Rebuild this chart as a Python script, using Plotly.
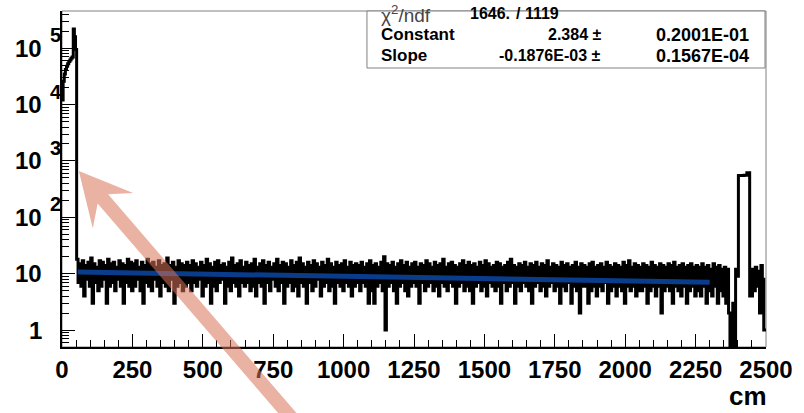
import numpy as np
import plotly.graph_objects as go

# ---------------- data ----------------
# fine 4 cm bins covering the big peak, 0..52 cm
peak_counts = [12000, 26000, 35000, 42000, 48000, 53000, 58000, 62000,
               66000, 70000, 220000, 160000, 95000]
peak_bin_width = 4

# 10 cm columns from 52 cm to 2502 cm: upper and lower envelope of the
# densely fluctuating histogram inside each column
body_start = 52
body_bin_width = 10
body_high = [
    18, 15, 17, 14, 16, 19, 15, 13, 17, 16, 14, 18, 15, 16, 13, 17, 15, 14, 18, 16,   # 52-252
    15, 17, 13, 16, 14, 18, 15, 16, 13, 17, 14, 15, 19, 14, 16, 13, 17, 15, 14, 16,   # 252-452
    14, 17, 15, 13, 16, 14, 18, 15, 13, 16, 17, 14, 15, 13, 16, 19, 14, 15, 17, 13,   # 452-652
    16, 14, 15, 18, 13, 15, 17, 14, 16, 13, 15, 18, 14, 16, 15, 13, 17, 14, 16, 19,   # 652-852
    15, 13, 16, 14, 17, 15, 13, 16, 14, 18, 15, 13, 16, 14, 15, 17, 13, 16, 14, 15,   # 852-1052
    14, 16, 13, 15, 17, 14, 15, 13, 16, 20, 15, 14, 16, 13, 15, 17, 14, 16, 13, 15,   # 1052-1252
    16, 13, 15, 14, 17, 15, 13, 16, 14, 15, 18, 13, 15, 16, 14, 13, 15, 17, 14, 16,   # 1252-1452
    14, 15, 13, 16, 14, 17, 15, 13, 14, 16, 15, 13, 14, 16, 18, 14, 13, 15, 14, 16,   # 1452-1652
    13, 15, 14, 16, 13, 15, 14, 17, 13, 15, 14, 13, 16, 14, 15, 13, 14, 16, 13, 15,   # 1652-1852
    14, 13, 15, 16, 13, 14, 15, 13, 16, 14, 13, 15, 14, 13, 16, 14, 17, 13, 15, 14,   # 1852-2052
    13, 15, 14, 13, 16, 14, 13, 15, 14, 13, 15, 14, 16, 13, 14, 15, 13, 14, 15, 13,   # 2052-2252
    14, 13, 15, 13, 14, 12, 15, 13, 14, 12, 13, 12, 0, 3, 12, 550, 550, 560, 620, 4,  # 2252-2452
    12, 13, 11, 14, 1,                                                                # 2452-2502
]
body_low = [
    7, 6, 4, 8, 6, 3, 7, 5, 6, 8, 3, 6, 7, 5, 8, 6, 3, 7, 6, 5,
    6, 8, 5, 3, 7, 6, 5, 8, 6, 4, 7, 6, 5, 8, 3, 6, 7, 5, 6, 7,
    5, 7, 6, 8, 4, 6, 7, 3, 6, 5, 7, 8, 3, 6, 5, 7, 6, 4, 7, 6,
    7, 5, 6, 4, 7, 6, 3, 7, 5, 8, 6, 5, 7, 3, 6, 7, 5, 6, 4, 7,
    6, 3, 7, 5, 6, 8, 4, 6, 7, 5, 6, 3, 7, 6, 5, 7, 6, 4, 6, 7,
    5, 7, 6, 3, 5, 3, 6, 7, 5, 1, 6, 7, 5, 3, 6, 7, 5, 4, 6, 7,
    6, 3, 7, 5, 6, 7, 5, 6, 4, 7, 6, 5, 7, 6, 3, 6, 7, 5, 6, 5,
    3, 6, 7, 5, 6, 4, 7, 6, 5, 6, 3, 7, 5, 6, 7, 3, 6, 5, 7, 6,
    5, 3, 6, 7, 5, 6, 4, 6, 7, 5, 6, 3, 6, 5, 7, 3, 6, 5, 2, 6,
    6, 3, 5, 6, 4, 6, 5, 7, 3, 5, 6, 4, 6, 5, 3, 6, 5, 6, 4, 5,
    5, 6, 3, 5, 6, 4, 6, 2, 5, 6, 5, 3, 6, 5, 4, 6, 3, 5, 6, 4,
    5, 4, 6, 3, 5, 4, 6, 3, 5, 4, 3, 2, 0, 0, 9, 550, 550, 560, 620, 4,
    5, 6, 2, 8, 1,
]

# fitted exponential (end points of the drawn fit line)
fit_x = [56, 2300]
fit_y = [10.7, 7.05]

# stats box
stats_names = ["χ<sup>2</sup>/ndf", "Constant", "Slope"]
stats_values = ["1646.", "2.384 ±", "-0.1876E-03 ±"]
stats_errors = ["/ 1119", "0.2001E-01", "0.1567E-04"]

x_tick_values = [0, 250, 500, 750, 1000, 1250, 1500, 1750, 2000, 2250, 2500]
y_decades = [0, 1, 2, 3, 4, 5]
x_title = "cm"

# ---------------- build histogram steps ----------------
peak_edges = [i * peak_bin_width for i in range(len(peak_counts))]
body_vals = []
for h, lo in zip(body_high, body_low):
    body_vals += [h, lo]
half = body_bin_width / 2
body_edges = [body_start + k * half for k in range(len(body_vals))]
counts = np.array(peak_counts + body_vals, dtype=float)
edges = peak_edges + body_edges + [body_edges[-1] + half]
disp = np.where(counts > 0, counts, 0.05)        # empty bins drop off the log axis
hx = edges
hy = list(disp) + [disp[-1]]

# ---------------- layout geometry (pixels) ----------------
W, H = 804, 413
L, R, T, B = 62, 773, 11, 347
pw, ph = R - L, B - T


def px(x):
    return (x - L) / pw


def py(y):
    return (B - y) / ph


FONT = "Liberation Sans, Arial, Helvetica, sans-serif"

fig = go.Figure()
fig.add_trace(go.Scatter(x=hx, y=hy, mode="lines", line_shape="hv",
                         line=dict(color="black", width=3), hoverinfo="skip"))
fig.add_trace(go.Scatter(x=fit_x, y=fit_y, mode="lines",
                         line=dict(color="#0a3c8c", width=5), hoverinfo="skip"))

fig.update_layout(
    width=W, height=H,
    margin=dict(l=L, r=W - R, t=T, b=H - B, pad=0),
    paper_bgcolor="white", plot_bgcolor="white",
    showlegend=False,
    font=dict(family=FONT, color="black"),
)

fig.update_xaxes(
    range=[0, 2500], tickmode="array", tickvals=x_tick_values,
    ticktext=["<b>%d</b>" % v for v in x_tick_values],
    tickfont=dict(size=24, family=FONT, color="black"),
    ticks="inside", ticklen=13, tickwidth=1, tickcolor="black",
    minor=dict(ticks="inside", ticklen=7, tickwidth=1, tickcolor="black", dtick=50),
    showline=True, linecolor="black", linewidth=1.5,
    showgrid=False, zeroline=False, ticklabelstandoff=0,
)
fig.update_yaxes(
    type="log", range=[np.log10(0.5), 5.66],
    tickmode="linear", tick0=0, dtick=1, showticklabels=False,
    ticks="inside", ticklen=13, tickwidth=1, tickcolor="black",
    minor=dict(ticks="inside", ticklen=7, tickwidth=1, tickcolor="black", dtick="D1"),
    showline=True, linecolor="black", linewidth=1.5,
    showgrid=False, zeroline=False,
)

shapes = []
# frame (top / right in grey)
shapes.append(dict(type="rect", xref="paper", yref="paper", x0=0, x1=1, y0=0, y1=1,
                   line=dict(color="#808080", width=1), layer="below"))
# stats box
shapes.append(dict(type="rect", xref="paper", yref="paper",
                   x0=px(370), x1=px(772), y0=py(68), y1=py(11),
                   fillcolor="white", line=dict(color="#808080", width=1), layer="above"))

# big arrow annotation (pixel geometry)
tip = np.array([79.0, 171.0])
d = np.array([0.656, 0.754]); d = d / np.linalg.norm(d)
n = np.array([d[1], -d[0]])
local = [(0, 0), (52.5, 27), (37, 7), (340, 7), (340, -7), (37, -7), (52.5, -27)]
pts = [tip + u * d + v * n for u, v in local]
path = "M " + " L ".join("%.5f,%.5f" % (px(p[0]), py(p[1])) for p in pts) + " Z"
shapes.append(dict(type="path", xref="paper", yref="paper", path=path,
                   fillcolor="rgba(215,115,88,0.55)", line=dict(width=0), layer="above"))
fig.update_layout(shapes=shapes)

ann = []
# y tick labels, ROOT style 10^n
for p in y_decades:
    base = "1" if p == 0 else "10"
    ann.append(dict(xref="paper", yref="y", x=px(44), y=p, text="<b>%s</b>" % base,
                    xanchor="right", yanchor="middle", showarrow=False,
                    font=dict(size=24, family=FONT, color="black")))
    if p >= 2:
        ann.append(dict(xref="paper", yref="y", x=px(48), y=p, yshift=13,
                        text="<b>%d</b>" % p, xanchor="left", yanchor="middle",
                        showarrow=False, font=dict(size=20, family=FONT, color="black")))
# x title
ann.append(dict(xref="paper", yref="paper", x=px(776), y=py(396), text="<b>%s</b>" % x_title,
                xanchor="right", yanchor="middle", showarrow=False,
                font=dict(size=26, family=FONT, color="black")))

# stats box text
row_y = [14, 35, 56]
ann.append(dict(xref="paper", yref="paper", x=px(382), y=py(row_y[0]),
                text=stats_names[0], xanchor="left", yanchor="middle", showarrow=False,
                font=dict(size=19, family=FONT, color="#444")))
ann.append(dict(xref="paper", yref="paper", x=px(472), y=py(row_y[0]),
                text="<b>%s</b>" % stats_values[0], xanchor="left", yanchor="middle",
                showarrow=False, font=dict(size=16, family=FONT, color="black")))
ann.append(dict(xref="paper", yref="paper", x=px(518), y=py(row_y[0]),
                text="<b>%s</b>" % stats_errors[0], xanchor="left", yanchor="middle",
                showarrow=False, font=dict(size=16, family=FONT, color="black")))
for i in (1, 2):
    ann.append(dict(xref="paper", yref="paper", x=px(382), y=py(row_y[i]),
                    text="<b>%s</b>" % stats_names[i], xanchor="left", yanchor="middle",
                    showarrow=False, font=dict(size=17, family=FONT, color="black")))
    ann.append(dict(xref="paper", yref="paper", x=px(608), y=py(row_y[i]),
                    text="<b>%s</b>" % stats_values[i], xanchor="right", yanchor="middle",
                    showarrow=False, font=dict(size=16, family=FONT, color="black")))
    ann.append(dict(xref="paper", yref="paper", x=px(758), y=py(row_y[i]),
                    text="<b>%s</b>" % stats_errors[i], xanchor="right", yanchor="middle",
                    showarrow=False, font=dict(size=18, family=FONT, color="black")))
fig.update_layout(annotations=ann)

fig.write_html("out.html")
